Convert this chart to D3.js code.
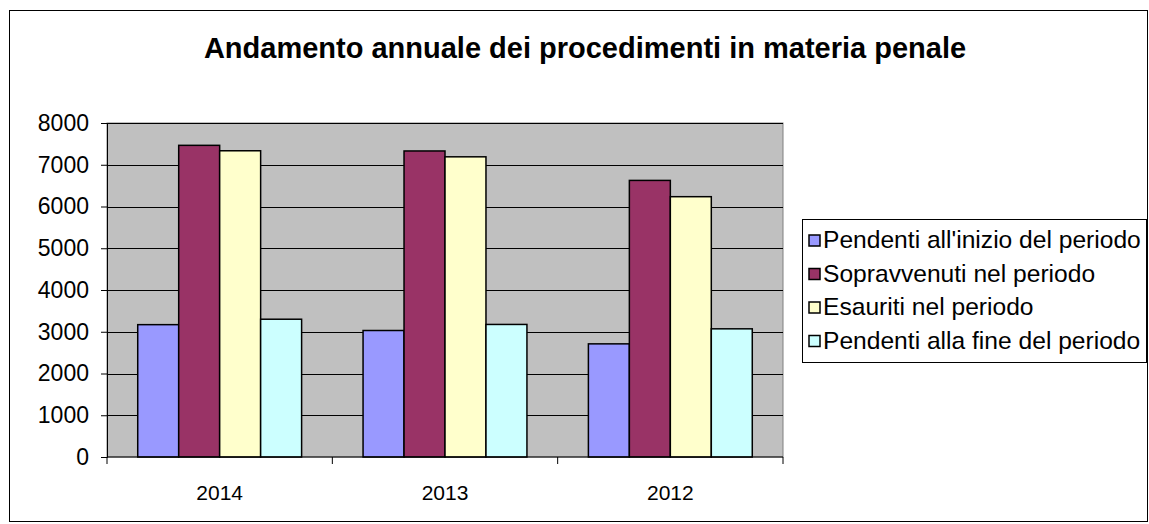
<!DOCTYPE html>
<html>
<head>
<meta charset="utf-8">
<script src="https://cdn.jsdelivr.net/npm/d3@7"></script>
<style>
  body { margin: 0; background: #fff; }
  text { font-family: "Liberation Sans", Arial, sans-serif; fill: #000; }
</style>
</head>
<body>
<svg width="1149" height="524"></svg>
<script>
var years = ["2014", "2013", "2012"];
var seriesNames = ["Pendenti all'inizio del periodo", "Sopravvenuti nel periodo", "Esauriti nel periodo", "Pendenti alla fine del periodo"];
var seriesColors = ["#9999ff", "#993366", "#ffffcc", "#ccffff"];
var pendentiInizio = [3170, 3030, 2710];
var sopravvenuti = [7465, 7330, 6625];
var esauriti = [7335, 7190, 6235];
var pendentiFine = [3300, 3175, 3070];
var yTicks = [0, 1000, 2000, 3000, 4000, 5000, 6000, 7000, 8000];

var values = [pendentiInizio, sopravvenuti, esauriti, pendentiFine];

var svg = d3.select("svg");

// outer frame
svg.append("rect")
  .attr("x", 9.5).attr("y", 10.5)
  .attr("width", 1138).attr("height", 511)
  .attr("fill", "#fff").attr("stroke", "#000").attr("stroke-width", 1);

svg.append("text")
  .attr("x", 585).attr("y", 58)
  .attr("text-anchor", "middle")
  .style("font-size", "29px").style("font-weight", "bold")
  .text("Andamento annuale dei procedimenti in materia penale");

var pLeft = 107, pRight = 783, pTop = 123, pBottom = 457;

var x = d3.scaleBand().domain(years).range([pLeft, pRight]).padding(0);
var y = d3.scaleLinear().domain([0, 8000]).range([pBottom, pTop]);

var inner = d3.scaleBand()
  .domain(d3.range(4))
  .range([0, x.bandwidth()])
  .paddingInner(0)
  .paddingOuter(0.75);

svg.append("rect")
  .attr("x", pLeft).attr("y", pTop)
  .attr("width", pRight - pLeft).attr("height", pBottom - pTop)
  .attr("fill", "#c0c0c0").attr("stroke", "#808080").attr("stroke-width", 1);

svg.append("g")
  .selectAll("line")
  .data(yTicks.slice(1))
  .enter().append("line")
  .attr("x1", pLeft).attr("x2", pRight)
  .attr("y1", d => Math.round(y(d)) + 0.5).attr("y2", d => Math.round(y(d)) + 0.5)
  .attr("stroke", "#000").attr("stroke-width", 1);

// bars
var groups = svg.append("g")
  .selectAll("g")
  .data(values)
  .enter().append("g")
  .attr("fill", (d, i) => seriesColors[i]);

groups.each(function (vals, s) {
  d3.select(this).selectAll("rect")
    .data(vals)
    .enter().append("rect")
    .attr("x", (d, i) => x(years[i]) + inner(s))
    .attr("y", d => y(d))
    .attr("width", inner.bandwidth())
    .attr("height", d => pBottom - y(d))
    .attr("stroke", "#000").attr("stroke-width", 1.5);
});

// axes
var yAxis = d3.axisLeft(y).tickValues(yTicks).tickSize(6).tickPadding(12).tickFormat(d3.format("d"));
var gy = svg.append("g").attr("transform", "translate(" + pLeft + ",0)").call(yAxis);
gy.select(".domain").attr("stroke", "#000");
gy.selectAll("text").style("font-size", "23px");

var gx = svg.append("g").attr("transform", "translate(0," + pBottom + ")");
gx.append("line").attr("x1", pLeft).attr("x2", pRight).attr("stroke", "#000");
gx.selectAll("line.tk")
  .data(d3.range(4))
  .enter().append("line").attr("class", "tk")
  .attr("x1", i => pLeft + i * x.step()).attr("x2", i => pLeft + i * x.step())
  .attr("y1", 0).attr("y2", 7).attr("stroke", "#000");
gx.selectAll("text")
  .data(years)
  .enter().append("text")
  .attr("x", d => x(d) + x.bandwidth() / 2)
  .attr("y", 43)
  .attr("text-anchor", "middle")
  .style("font-size", "21px")
  .text(d => d);

// legend
var legend = svg.append("g").attr("transform", "translate(802,219)");
legend.append("rect")
  .attr("x", 0.5).attr("y", 0.5).attr("width", 344).attr("height", 143)
  .attr("fill", "#fff").attr("stroke", "#000");
var items = legend.selectAll("g.item")
  .data(seriesNames)
  .enter().append("g").attr("class", "item")
  .attr("transform", (d, i) => "translate(0," + (21 + i * 33.5) + ")");
items.append("rect")
  .attr("x", 7).attr("y", -5).attr("width", 11).attr("height", 11)
  .attr("fill", (d, i) => seriesColors[i]).attr("stroke", "#000").attr("stroke-width", 1.5);
items.append("text")
  .attr("x", 21).attr("y", 8)
  .style("font-size", "24.6px")
  .text(d => d);
</script>
</body>
</html>
